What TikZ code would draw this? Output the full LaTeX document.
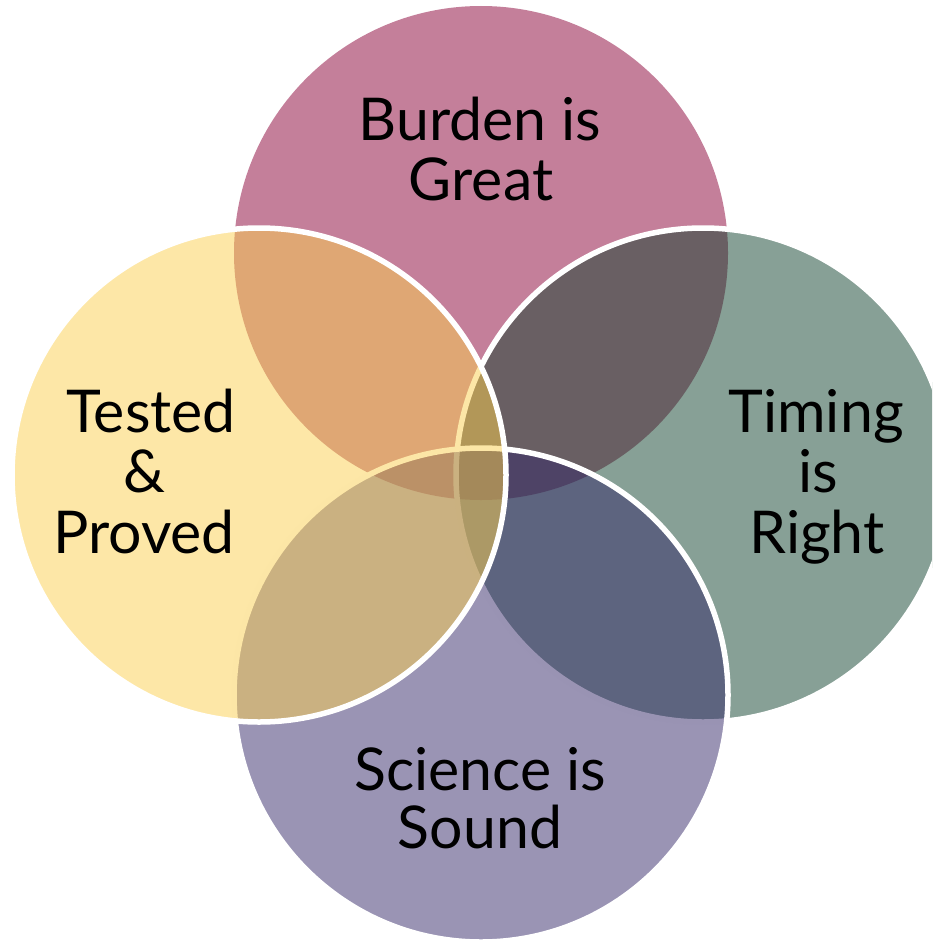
\documentclass[tikz,border=0pt]{standalone}
\usepackage{fontspec}
\setmainfont{Lato}
\definecolor{topc}{RGB}{196,127,154}
\definecolor{rightc}{RGB}{15,65,45}
\definecolor{bottomc}{RGB}{53,41,105}
\definecolor{leftc}{RGB}{251,207,79}
\tikzset{
  venn/.style={circle, minimum size=494pt, inner sep=0pt, outer sep=0pt},
  vennsoft/.style={venn, fill=#1, fill opacity=0.5, draw=white, line width=5.5pt},
  label/.style={anchor=base, inner sep=0pt, text=black, font=\fontsize{59}{60}\selectfont}
}
\begin{document}
\begin{tikzpicture}[x=1pt,y=-1pt]
\useasboundingbox (0,0) rectangle (932,942);
\clip (0,0) rectangle (932,942);
\node[venn, fill=topc] (top) at (481,253) {};
\node[vennsoft=rightc] (right) at (703,475) {};
\node[vennsoft=bottomc] (bottom) at (481,695) {};
\node[vennsoft=leftc] (left) at (259,475) {};
\node[label] (t1) at (480,140) {Burden is};
\node[label] (t2) at (481,200) {Great};
\node[label] (l1) at (151,432) {Tested};
\node[label] (l2) at (145,492) {\&};
\node[label] (l3) at (144,553) {Proved};
\node[label] (r1) at (816,432) {Timing};
\node[label] (r2) at (818,492) {is};
\node[label] (r3) at (817,553) {Right};
\node[label] (b1) at (480,790) {Science is};
\node[label] (b2) at (480,848) {Sound};
\end{tikzpicture}
\end{document}
